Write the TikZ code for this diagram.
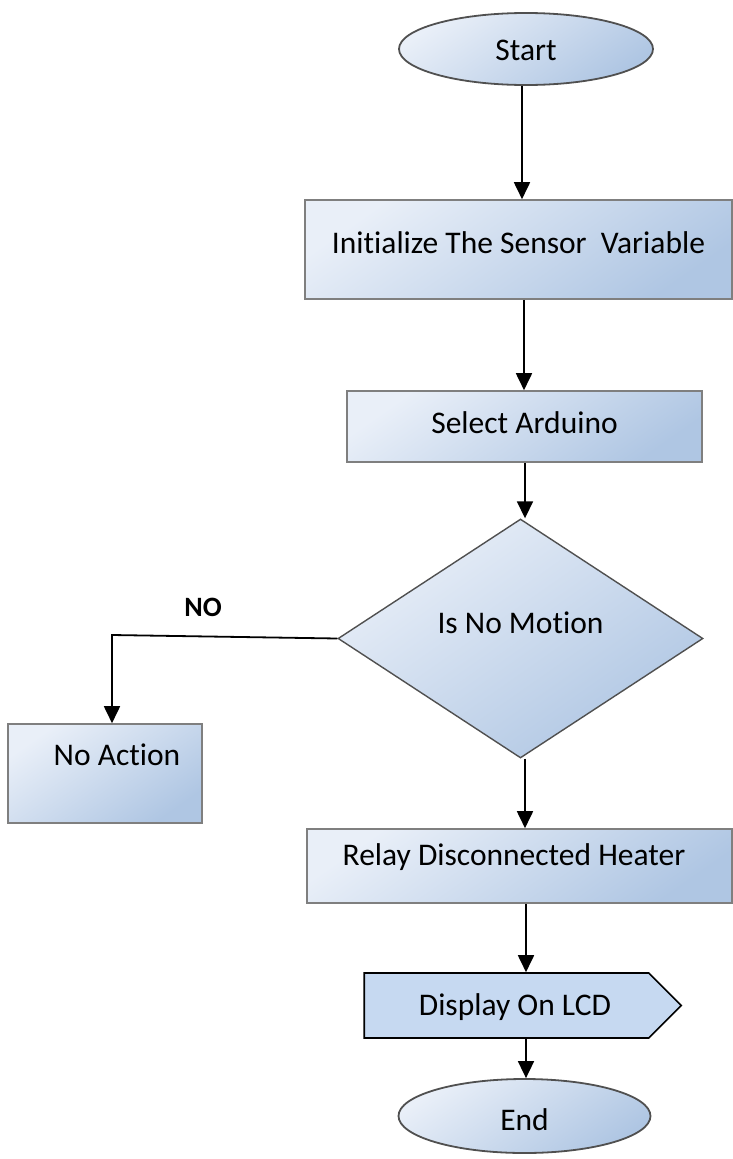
\documentclass[tikz,border=0pt]{standalone}
\usepackage{fontspec}
\setmainfont[Ligatures=CommonOff]{Carlito}
\usetikzlibrary{shapes.geometric,shapes.symbols,arrows.meta}
\definecolor{fillA}{HTML}{E9EFF8}
\definecolor{fillB}{HTML}{AFC6E3}
\definecolor{boxline}{HTML}{7F7F7F}
\definecolor{ellline}{HTML}{505050}
\definecolor{sigfill}{HTML}{C6D9F1}
\tikzset{
  grad/.style={top color=fillA, bottom color=fillB, shading angle=35},
  procbox/.style={rectangle, draw=boxline, line width=1.6pt, grad, inner sep=0pt},
  termbox/.style={ellipse, draw=ellline, line width=1.8pt, grad, inner sep=0pt},
  decbox/.style={diamond, draw=ellline, line width=1.4pt, grad, inner sep=0pt},
  txt/.style={font=\fontsize{31.5}{36}\selectfont, text=black},
  arr/.style={line width=1.8pt, -{Triangle[width=16pt,length=17pt]}},
  plain/.style={line width=1.8pt}
}
\begin{document}
\begin{tikzpicture}[x=1pt,y=-1pt]
\useasboundingbox (0,0) rectangle (732,1159);
\fill[white] (0,0) rectangle (732,1159);

\node[termbox, minimum width=254pt, minimum height=72pt,
  label={[txt, yshift=-1pt]center:Start}] (start) at (526,49) {};

\node[procbox, minimum width=427pt, minimum height=99pt,
  label={[txt, yshift=6.5pt]center:Initialize The Sensor\ \ Variable}] (init) at (518.5,249.5) {};

\node[procbox, minimum width=355pt, minimum height=71pt,
  label={[txt, yshift=3.5pt]center:Select Arduino}] (sel) at (524.5,426.5) {};

\node[decbox, minimum width=365pt, minimum height=239pt,
  label={[txt, yshift=15.5pt]center:Is No Motion}] (dec) at (520.5,638.5) {};

\node[procbox, minimum width=194pt, minimum height=99pt,
  label={[txt, xshift=12pt, yshift=18.5pt]center:No Action}] (noact) at (105,773.5) {};

\node[font=\bfseries\fontsize{28}{32}\selectfont] (nolab) at (203,607) {NO};

\node[procbox, minimum width=425pt, minimum height=74pt,
  label={[txt, xshift=-5.5pt, yshift=9pt]center:Relay Disconnected Heater}] (relay) at (519.5,866) {};

\node[signal, signal to=east, signal pointer angle=90, draw=black, line width=1.6pt,
  fill=sigfill, inner sep=0pt, minimum width=317pt, minimum height=65pt,
  label={[txt, xshift=8.5pt, yshift=-1.5pt]center:Display On LCD}] (disp) at (506.5,1005.5) {};

\node[termbox, minimum width=252pt, minimum height=74pt,
  label={[txt, yshift=-4pt]center:End}] (end) at (524.5,1116) {};

\coordinate (noturn) at (112,635);

\draw[arr] (start.south -| 522,0) -- (522,0 |- init.north);
\draw[arr] (init.south -| 524,0) -- (524,0 |- sel.north);
\draw[arr] (sel.south -| 525,0) -- (525,0 |- dec.north);
\draw[arr] (dec.south -| 525,0) -- (525,0 |- relay.north);
\draw[arr] (relay.south -| 526,0) -- (526,0 |- disp.north);
\draw[arr] (disp.south -| 526,0) -- (526,0 |- end.north);
\draw[arr] (dec.west) -- (noturn) -- (noturn |- noact.north);
\end{tikzpicture}
\end{document}
